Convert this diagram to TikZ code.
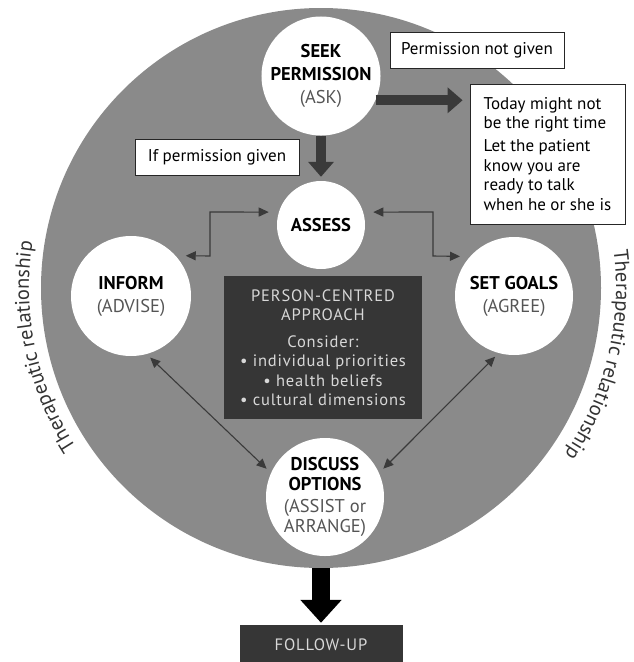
\documentclass[tikz,border=0pt]{standalone}
\usepackage{fontspec}
\setmainfont{PT Sans}
\newfontfamily\spacedfont[LetterSpace=5]{PT Sans}
\usetikzlibrary{arrows.meta,decorations.text,calc}
\definecolor{ringgray}{HTML}{8A8A8A}
\definecolor{darkbox}{HTML}{363636}
\definecolor{arrowdark}{HTML}{3A3A3A}
\definecolor{subgray}{HTML}{555555}
\definecolor{boxtext}{HTML}{D8D8D8}
\definecolor{therap}{HTML}{333333}
\newcommand\curvefont{\fontsize{20.5}{20.5}\selectfont}
\begin{document}
\begin{tikzpicture}[x=1pt,y=-1pt,
  stage/.style={circle, fill=white, inner sep=0pt, align=center, font=\fontsize{18.5}{23}\selectfont},
  noteb/.style={draw=black!85, fill=white, line width=0.8pt, inner sep=0pt, font=\fontsize{17}{19.5}\selectfont},
  darkb/.style={fill=darkbox, text=boxtext, inner sep=0pt, align=center},
  conn/.style={draw=arrowdark, line width=1.1pt, {Triangle[width=9pt,length=10pt]}-{Triangle[width=9pt,length=10pt]}},
  fat/.style={draw=arrowdark, line width=10pt, -{Triangle[width=25pt,length=15pt]}},
  fatblack/.style={draw=black, line width=18pt, -{Triangle[width=40pt,length=23pt]}}]
\useasboundingbox (0,0) rectangle (634,662);
\fill[white] (0,0) rectangle (634,662);
\node[circle, fill=ringgray, minimum size=560pt, inner sep=0pt] (rel) at (321,288) {};

\node[stage, minimum size=118pt] (seek) at (321,76) {\textbf{SEEK}\\\textbf{PERMISSION}\\\textcolor{subgray}{(ASK)}};
\node[stage, minimum size=88pt] (assess) at (321,225) {\textbf{ASSESS}};
\node[stage, minimum size=120pt] (inform) at (131,296) {\textbf{INFORM}\\\textcolor{subgray}{(ADVISE)}};
\node[stage, minimum size=118pt] (goals) at (514,296) {\textbf{SET GOALS}\\\textcolor{subgray}{(AGREE)}};
\node[stage, minimum size=118pt, font=\fontsize{18.5}{19.5}\selectfont] (discuss) at (325,497) {\textbf{DISCUSS}\\\textbf{OPTIONS}\\[3pt]\textcolor{subgray}{(ASSIST or}\\\textcolor{subgray}{ARRANGE)}};

\node[noteb, minimum width=174pt, minimum height=36pt] (notgiven) at (477,50) {Permission not given};
\node[noteb, minimum width=164pt, minimum height=36pt] (given) at (217,157) {If permission given};
\node[noteb, minimum width=155pt, minimum height=140pt, align=left] (today) at (547.5,154) {Today might not\\be the right time\\[3.5pt]Let the patient\\know you are\\ready to talk\\when he or she is};

\node[darkb, minimum width=198pt, minimum height=143pt, font=\fontsize{16.5}{19.5}\selectfont] (pca) at (323,347.5) {\spacedfont PERSON-CENTRED\\\spacedfont APPROACH\\[7pt]\spacedfont Consider:\\\spacedfont \textbullet\ individual priorities\\\spacedfont \textbullet\ health beliefs\\\spacedfont \textbullet\ cultural dimensions};
\node[darkb, minimum width=163pt, minimum height=40pt, font=\fontsize{16.5}{19.5}\selectfont] (follow) at (321,645) {\spacedfont FOLLOW-UP};

\draw[fat] (seek.south) -- ([yshift=4pt]assess.north);
\draw[fat] (seek.-24) -- ([xshift=-7pt]seek.-24 -| today.west);
\draw[fatblack] (rel.south) -- ([yshift=2pt]follow.north);

\draw[conn] ([xshift=-10pt]assess.163) -- (210,212) -- (210,256) -- ([xshift=10pt]inform.42);
\draw[conn] ([xshift=10pt]assess.17) -- (433,212) -- (433,256) -- ([xshift=-10pt]goals.138);
\draw[conn, shorten <=5pt, shorten >=6pt] (inform.285) -- (discuss.156);
\draw[conn, shorten <=5pt, shorten >=6pt] (goals.255) -- (discuss.24);

\begin{scope}[x=1pt,y=1pt]
\path[decorate, decoration={text along path, text align=center, text={|\color{therap}\curvefont|Therapeutic relationship}}] ($(rel.center)+(232:292)$) arc[start angle=232, end angle=152, radius=292];
\path[decorate, decoration={text along path, text align=center, text={|\color{therap}\curvefont|Therapeutic relationship}}] ($(rel.center)+(27:295)$) arc[start angle=27, end angle=-54, radius=295];
\end{scope}
\end{tikzpicture}
\end{document}
